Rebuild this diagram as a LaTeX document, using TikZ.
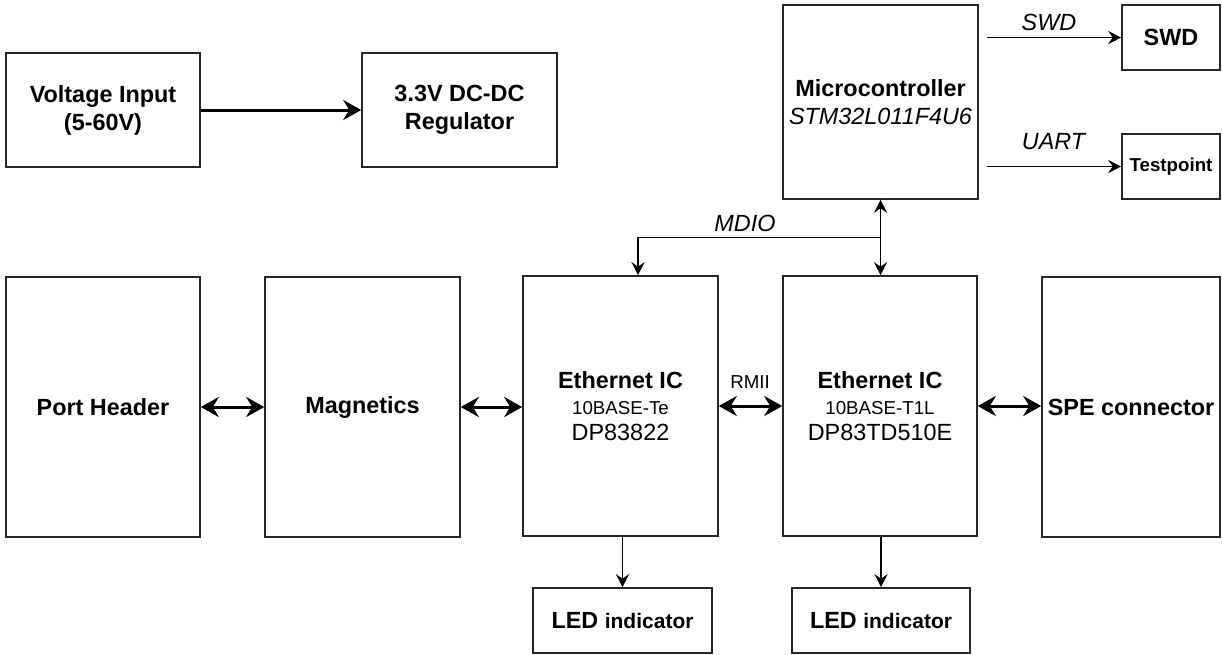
\documentclass[tikz,border=0pt]{standalone}
\usepackage{fontspec}
\setmainfont{Liberation Sans}
\usetikzlibrary{arrows.meta,calc}
\newcommand\bigf{\fontsize{23.4}{28}\selectfont}
\newcommand\ethf{\fontsize{23.4}{26}\selectfont}
\newcommand\smallf{\fontsize{18.7}{26}\selectfont}
\newcommand\midf{\fontsize{21}{26}\selectfont}
\begin{document}
\begin{tikzpicture}[x=1pt,y=-1pt,
  tipS/.tip={Stealth[length=13pt,width=13pt,inset=4.5pt]},
  tipL/.tip={Stealth[length=18pt,width=20pt,inset=6pt]},
  box/.style={draw=black!85, line width=1.6pt, inner sep=2pt, align=center, font=\bigf\bfseries},
  lab/.style={inner sep=0pt, font=\bigf\itshape},
  thinarr/.style={line width=1.7pt, -tipS},
  thinboth/.style={line width=1.7pt, tipS-tipS},
  thickarr/.style={line width=3pt, -tipL},
  thickboth/.style={line width=3pt, tipL-tipL}]
\useasboundingbox (0,0) rectangle (1222,654);

% top row
\node[box, minimum width=194pt, minimum height=114pt] (vin) at (103,110) {Voltage Input\\(5-60V)};
\node[box, minimum width=195pt, minimum height=114pt] (reg) at (459.5,110) {3.3V DC-DC\\Regulator};
\node[box, minimum width=195pt, minimum height=194pt] (mcu) at (880.5,102) {Microcontroller\\\mdseries\itshape STM32L011F4U6};
\node[box, minimum width=98pt, minimum height=65pt] (swd) at (1171,37.5) {SWD};
\node[box, minimum width=98pt, minimum height=65pt, font=\smallf\bfseries] (tp) at (1171,166.5) {Testpoint};

% middle row
\node[box, minimum width=194pt, minimum height=260pt] (port) at (103,407) {Port Header};
\node[box, minimum width=195pt, minimum height=260pt] (mag) at (362.5,407) {Magnetics};
\node[box, minimum width=195pt, minimum height=260pt, font=\ethf\bfseries] (eth1) at (620.5,406)
  {Ethernet IC\\{\smallf\mdseries 10BASE-Te}\\{\mdseries DP83822}};
\node[box, minimum width=194pt, minimum height=260pt, font=\ethf\bfseries] (eth2) at (880,406)
  {Ethernet IC\\{\smallf\mdseries 10BASE-T1L}\\{\mdseries DP83TD510E}};
\node[box, minimum width=178pt, minimum height=260pt] (spe) at (1131,407) {SPE connector};

% bottom row
\node[box, minimum width=179pt, minimum height=65pt] (led1) at (622.5,620.5) {LED {\midf indicator}};
\node[box, minimum width=178pt, minimum height=65pt] (led2) at (881,620.5) {LED {\midf indicator}};

% labels
\node[lab] (swdlab) at (1049,22) {SWD};
\node[lab] (uartlab) at (1053.5,141.5) {UART};
\node[lab] (mdiolab) at (745,223) {MDIO};
\node[inner sep=0pt, font=\smallf] (rmiilab) at (750,382) {RMII};

% connectors
\draw[thickarr] (vin) -- (reg);
\draw[thickboth] (port) -- (mag);
\draw[thickboth] (mag.east) -- (mag.east -| eth1.west);
\draw[thickboth] (eth1.east) -- (eth1.east -| eth2.west);
\draw[thickboth] (eth2.east) -- (eth2.east -| spe.west);

\coordinate (swdstart) at ($(mcu.east |- swd.west)+(8,0)$);
\draw[thinarr] (swdstart) -- (swd.west);
\coordinate (uartstart) at ($(mcu.east |- tp.west)+(8,0)$);
\draw[thinarr] (uartstart) -- (tp.west);

\draw[thinboth] (mcu.south) -- (mcu.south |- eth2.north);
\coordinate (mdioj) at ($(mcu.south)!0.5!(mcu.south |- eth2.north)$);
\coordinate (eth1in) at ($(eth1.north)+(17.5,0)$);
\draw[thinarr] (mdioj) -| (eth1in);

\draw[thinarr] (eth1.south -| led1.north) -- (led1.north);
\draw[thinarr] (eth2.south -| led2.north) -- (led2.north);
\end{tikzpicture}
\end{document}
